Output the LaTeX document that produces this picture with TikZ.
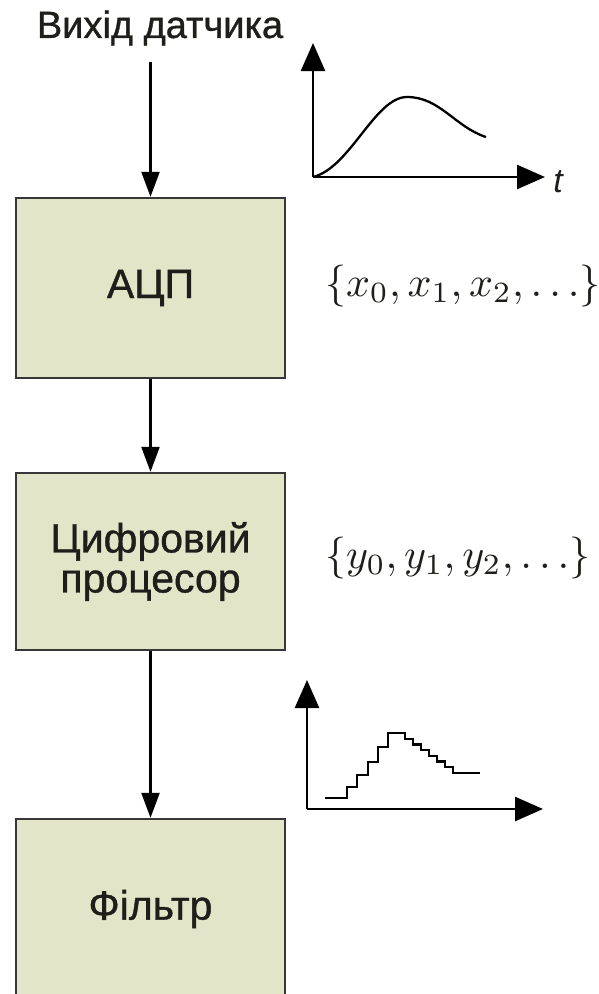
\documentclass[tikz,border=0pt]{standalone}
\usepackage{graphicx}
\usepackage{fontspec}
\setmainfont{Liberation Sans}
\newfontfamily\boxfont[FakeBold=0.9]{Liberation Sans}
\usetikzlibrary{arrows.meta}
\definecolor{boxfill}{RGB}{227,229,200}
\definecolor{edge}{RGB}{55,55,55}
\definecolor{ink}{RGB}{30,30,26}
\begin{document}
\begin{tikzpicture}[x=1pt,y=-1pt,
  block/.style={draw=edge,line width=2.4pt,fill=boxfill,minimum width=269pt,inner sep=0pt,
    text=ink,font=\boxfont\fontsize{41}{40}\selectfont,align=center},
  flow/.style={line width=2.3pt,-{Triangle[length=25pt,width=18pt]}},
  axis/.style={line width=2.6pt,-{Triangle[length=28pt,width=24pt]}},
  sig/.style={line width=2.3pt,line join=miter},
  seq/.style={inner sep=0pt,text=ink}]
\useasboundingbox (0,0) rectangle (599,994);
\clip (0,0) rectangle (599,994);
% title
\node[inner sep=0pt,text=ink,font=\boxfont\fontsize{38}{38}\selectfont] (src) at (160,28) {Вихід датчика};
\coordinate (inTop) at (150.5,62);
% blocks
\node[block,minimum height=180pt] (adc) at (150.5,288) {АЦП};
\node[block,minimum height=177pt] (dsp) at (150.5,561.5) {Цифровий\\процесор};
\node[block,minimum height=180pt] (flt) at (150.5,909) {\raisebox{6pt}{Фільтр}};
% connectors
\draw[flow] (inTop) -- (adc.north);
\draw[flow] (adc.south) -- (dsp.north);
\draw[flow] (dsp.south) -- (flt.north);
% sequences
\node[seq,anchor=west] (xs) at (325,286) {\scalebox{4.2}{$\{x_0, x_1, x_2, \ldots\}$}};
\node[seq,anchor=west] (ys) at (325,558) {\scalebox{4.2}{$\{y_0, y_1, y_2, \ldots\}$}};
% analog graph
\coordinate (o1) at (313,177);
\coordinate (y1) at (313,43);
\coordinate (x1) at (545,177);
\draw[axis] (o1) -- (y1);
\draw[axis] (o1) -- (x1);
\node[inner sep=0pt,text=ink,font=\fontsize{34}{34}\selectfont\itshape] (t) at (558,182) {t};
\draw[sig] (o1) .. controls (350,168) and (375,97) .. (407,97)
  .. controls (440,97) and (455,127) .. (486,137);
% staircase graph
\coordinate (o2) at (307,809);
\coordinate (y2) at (307,680);
\coordinate (x2) at (543,809);
\draw[axis] (o2) -- (y2);
\draw[axis] (o2) -- (x2);
\draw[sig] (325,798) -- (347,798) -- (347,787) -- (357,787) -- (357,775) -- (368,775)
  -- (368,762) -- (378,762) -- (378,747) -- (388,747) -- (388,733) -- (405,733)
  -- (405,738.7) -- (413,738.7) -- (413,744.4) -- (421,744.4) -- (421,750.1)
  -- (429,750.1) -- (429,755.8) -- (437,755.8) -- (437,761.5) -- (445,761.5)
  -- (445,767.2) -- (453,767.2) -- (453,773) -- (480,773);
\end{tikzpicture}
\end{document}
